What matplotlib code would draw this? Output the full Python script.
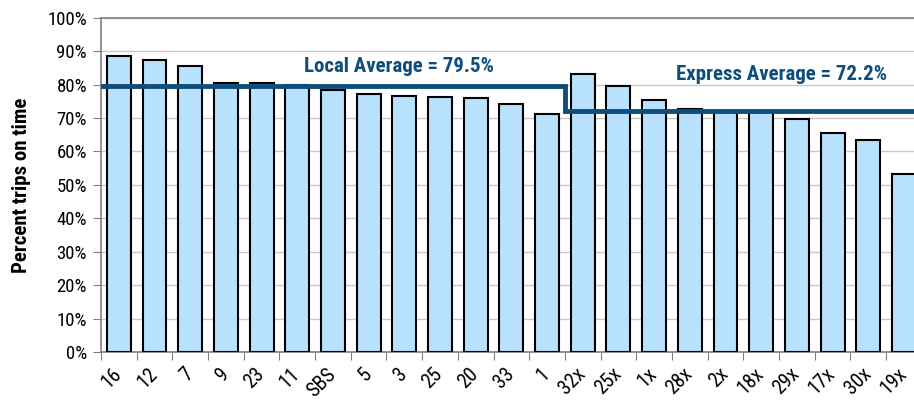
import matplotlib
matplotlib.use("Agg")
import matplotlib.pyplot as plt
import matplotlib.transforms as mtransforms
from matplotlib import font_manager
import numpy as np

# narrow face if one is installed, otherwise plain Liberation Sans
installed = {f.name for f in font_manager.fontManager.ttflist}
narrow = [f for f in ["Liberation Sans Narrow", "Arial Narrow", "Roboto Condensed",
                      "Open Sans Condensed"] if f in installed]
FONT = narrow[0] if narrow else "Liberation Sans"
SCALE = 1.0 if narrow else 0.85
plt.rcParams['font.family'] = [FONT, 'DejaVu Sans']

# Route on-time performance
routes = ["16", "12", "7", "9", "23", "11", "SBS", "5", "3", "25", "20", "33", "1",
          "32x", "25x", "1x", "28x", "2x", "18x", "29x", "17x", "30x", "19x"]
on_time = [88.5, 87.4, 85.7, 80.5, 80.5, 79.8, 78.3, 77.2, 76.6, 76.4, 76.1, 74.2, 71.3,
           83.3, 79.6, 75.4, 72.6, 72.1, 72.1, 69.6, 65.4, 63.3, 53.4]

n_local = 13
local_avg = 79.5
express_avg = 72.2

BAR_COLOR = "#B7E1FD"
AVG_COLOR = "#0E4C7A"
GRID_COLOR = "#C8C8C8"

fig = plt.figure(figsize=(9.14, 4.05), dpi=100)
ax = fig.add_axes([0.1105, 0.131, 0.898, 0.825])

x = np.arange(len(routes))
ax.bar(x, on_time, width=0.67, color=BAR_COLOR, edgecolor="black", linewidth=1.5, zorder=3)

# step line for local / express averages
ax.plot([-0.5, n_local - 0.5, n_local - 0.5, len(routes) - 0.5],
        [local_avg, local_avg, express_avg, express_avg],
        color=AVG_COLOR, lw=3.5, zorder=4, solid_joinstyle="miter")

ax.text(5.2, 83.8, f"Local Average = {local_avg}%", color=AVG_COLOR,
        fontsize=15 * SCALE, fontweight="bold", ha="left", va="baseline")
ax.text(15.6, 81.4, f"Express Average = {express_avg}%", color=AVG_COLOR,
        fontsize=15 * SCALE, fontweight="bold", ha="left", va="baseline")

ax.set_xlim(-0.5, len(routes) - 0.5)
ax.set_ylim(0, 100)
ax.set_yticks(np.arange(0, 101, 10))
ax.set_yticklabels([f"{v}%" for v in range(0, 101, 10)], fontsize=13.5 * SCALE)
ax.yaxis.grid(True, color=GRID_COLOR, lw=1, zorder=0)
ax.set_axisbelow(True)

# category ticks sit between bars, labels at bar centres
ax.set_xticks(np.arange(len(routes) + 1) - 0.5)
ax.set_xticklabels([])
ax.set_xticks(x, minor=True)
ax.set_xticklabels(routes, minor=True, rotation=45, ha="right", rotation_mode="anchor",
                   fontsize=14.5 * SCALE)
ax.tick_params(axis="x", which="minor", length=0, pad=9)
ax.tick_params(axis="x", which="major", length=6, color="#808080", direction="out")
ax.tick_params(axis="y", length=6, color="#808080", direction="out", pad=4)

# nudge the slanted labels a little left so they hang under their bars
shift = mtransforms.ScaledTranslation(-5 / 72, 0, fig.dpi_scale_trans)
for lbl in ax.get_xticklabels(minor=True):
    lbl.set_transform(lbl.get_transform() + shift)

for side in ["left", "bottom", "top"]:
    ax.spines[side].set_color("#808080")
    ax.spines[side].set_linewidth(1.2)
ax.spines["right"].set_visible(False)

ax.set_ylabel("Percent trips on time", fontsize=15 * SCALE, fontweight="bold", labelpad=12)

fig.savefig("out.png", dpi=100)
